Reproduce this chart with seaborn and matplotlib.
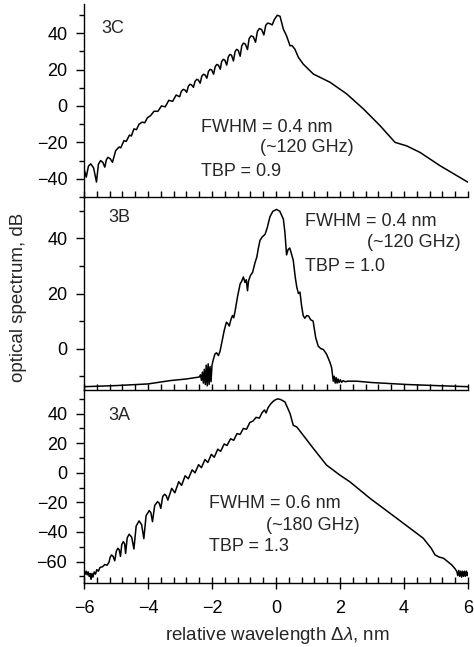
#!/usr/bin/env python3
"""Three stacked optical spectra (3C, 3B, 3A) vs relative wavelength."""

import numpy as np
import pandas as pd
import matplotlib
matplotlib.use("Agg")
import matplotlib.pyplot as plt
from matplotlib.ticker import MultipleLocator
import seaborn as sns

# ---- values (x in nm, y in dB) ----
x_3c = [-6.00, -5.93, -5.86, -5.79, -5.70, -5.61, -5.55, -5.48, -5.41, -5.35,
        -5.30, -5.25, -5.18, -5.11, -5.01, -4.90, -4.85, -4.75, -4.68, -4.58,
        -4.52, -4.44, -4.36, -4.28, -4.18, -4.10, -4.02, -3.92,
        -3.81, -3.69, -3.58, -3.46, -3.35, -3.23, -3.12,
        -3.01, -2.96, -2.90, -2.85, -2.79, -2.74, -2.69, -2.64,
        -2.58, -2.53, -2.48, -2.43, -2.37, -2.32, -2.27, -2.22,
        -2.16, -2.11, -2.06, -2.01, -1.95, -1.90, -1.85, -1.80,
        -1.74, -1.70, -1.65, -1.60, -1.54, -1.49, -1.44, -1.39,
        -1.33, -1.28, -1.23, -1.18, -1.12, -1.07, -1.02, -0.96,
        -0.89, -0.84, -0.78, -0.71, -0.64, -0.58, -0.52, -0.45,
        -0.38, -0.32, -0.26, -0.19, -0.12, -0.05, 0.04, 0.125,
        0.23, 0.33, 0.44, 0.50, 0.59, 0.70, 0.85, 1.17, 1.69, 2.21,
        2.73, 3.25, 3.72, 4.08, 4.50, 5.125, 6.00]
y_3c = [-34.5, -39.1, -33.0, -31.8, -34.0, -41.8, -32.0, -30.0, -31.0, -33.6,
        -29.5, -28.2, -29.0, -30.9, -24.5, -22.5, -23.0, -19.0, -19.5, -16.0,
        -16.5, -12.6, -13.0, -10.0, -8.9, -9.2, -6.5, -5.3,
        -2.9, -2.95, 0.0, -0.45, 3.1, 2.55, 6.0,
        5.05, 8.0, 9.1, 8.8, 7.5, 10.8, 11.9, 11.6,
        10.25, 13.5, 14.6, 14.3, 12.5, 16.3, 17.4, 17.1,
        15.25, 19.0, 20.1, 19.8, 17.45, 21.6, 22.8, 22.4,
        20.2, 24.3, 25.6, 25.2, 22.45, 27.0, 28.3, 27.9,
        24.7, 29.8, 31.1, 30.6, 27.3, 33.0, 34.5, 34.0,
        31.0, 37.0, 38.5, 38.0, 35.0, 41.0, 42.5, 42.0,
        39.0, 44.3, 45.5, 45.2, 44.5, 47.5, 49.8, 49.3,
        42.2, 38.5, 33.0, 33.2, 31.2, 26.7, 23.0, 17.5, 13.0, 6.6,
        -1.6, -10.8, -20.0, -21.9, -25.5, -32.8, -41.9]

x_3b = [-6.00, -5.00, -4.00, -3.31, -2.80, -2.40,
        -2.36, -2.33, -2.30, -2.27, -2.24, -2.21, -2.18, -2.15, -2.12, -2.09,
        -2.06, -2.03, -2.00,
        -1.96, -1.91, -1.86, -1.80, -1.75, -1.68, -1.62, -1.55, -1.50, -1.46,
        -1.41, -1.36, -1.32, -1.28, -1.20, -1.12, -1.07, -1.02, -0.97, -0.93,
        -0.89, -0.86, -0.80, -0.73, -0.66, -0.60, -0.55, -0.50, -0.43, -0.34,
        -0.27, -0.19, -0.10, 0.02, 0.12, 0.23, 0.28, 0.33, 0.38, 0.43,
        0.48, 0.54, 0.60, 0.65, 0.70, 0.75, 0.80, 0.85, 0.90, 0.96,
        1.02, 1.08, 1.16, 1.24, 1.32, 1.40, 1.48, 1.58, 1.69, 1.74, 1.79,
        1.82, 1.85, 1.88, 1.91, 1.94, 1.97, 2.01, 2.05, 2.10, 2.16, 2.25,
        2.52, 3.00, 4.08, 5.00, 6.00]
y_3b = [-13.8, -13.4, -12.8, -11.6, -11.0, -10.3,
        -9.5, -11.5, -8.5, -12.5, -7.5, -13.0, -6.0, -13.5, -5.5, -13.0,
        -6.5, -12.0, -6.0,
        -4.0, -2.0, -1.5, -2.5, -1.0, 3.0, 6.5, 9.6, 9.0, 8.2,
        10.5, 12.0, 11.2, 13.5, 19.0, 23.5, 24.5, 26.0, 24.0, 25.0,
        21.0, 24.5, 26.5, 27.7, 31.0, 33.2, 36.5, 39.3, 40.5, 41.5,
        44.0, 47.8, 49.8, 50.5, 49.8, 47.0, 42.0, 34.0, 36.0, 36.5,
        34.5, 32.0, 26.0, 22.3, 20.0, 20.5, 15.5, 12.0, 11.0, 12.0,
        11.8, 10.5, 10.0, 4.0, 0.9, 0.0, -0.3, -2.0, -5.1, -7.0, -11.8,
        -10.0, -12.5, -10.5, -12.5, -11.0, -12.3, -11.3, -12.2, -11.6, -12.0, -11.8,
        -11.8, -12.3, -13.0, -13.4, -13.8]

x_3a = [-6.00, -5.96, -5.93, -5.90, -5.87, -5.84, -5.81, -5.78, -5.75, -5.72,
        -5.68, -5.64, -5.60, -5.55, -5.50, -5.42, -5.35, -5.28,
        -5.22, -5.18, -5.14, -5.09, -5.04, -4.99, -4.94, -4.90,
        -4.86, -4.82, -4.77, -4.73, -4.70, -4.65, -4.59, -4.51,
        -4.44, -4.37, -4.28, -4.20, -4.13, -4.06, -3.96, -3.91,
        -3.86, -3.79, -3.70, -3.65, -3.60, -3.54, -3.48, -3.43,
        -3.38, -3.26, -3.16, -3.04, -2.95,
        -2.84, -2.74, -2.62, -2.53, -2.42, -2.33, -2.22, -2.13, -2.02, -1.93,
        -1.82, -1.73, -1.62, -1.53, -1.42, -1.32, -1.22, -1.12, -1.02, -0.92,
        -0.82, -0.72, -0.62, -0.52, -0.44, -0.36, -0.31, -0.25, -0.17, -0.08,
        0.00, 0.07, 0.15, 0.28, 0.36, 0.44, 0.54, 0.65, 0.85, 1.17,
        1.58, 2.00, 2.31, 2.94, 3.77, 4.60, 4.85, 4.97, 5.10, 5.23,
        5.49, 5.60, 5.65, 5.68, 5.71, 5.74, 5.77, 5.80, 5.83, 5.86,
        5.89, 5.92, 5.95, 5.98, 6.00]
y_3a = [-66.0, -68.5, -66.5, -69.0, -67.0, -70.0, -68.0, -72.0, -68.0, -70.5,
        -67.0, -68.5, -65.5, -66.5, -64.0, -63.5, -62.0, -62.5,
        -60.5, -57.0, -55.5, -56.5, -59.5, -53.0, -51.0, -52.0,
        -56.5, -48.5, -46.5, -48.0, -54.5, -44.0, -41.5, -43.5,
        -51.5, -36.0, -32.5, -35.0, -44.5, -29.0, -25.5, -27.0,
        -33.0, -22.0, -19.5, -20.5, -24.0, -16.0, -14.5, -15.5,
        -18.5, -10.5, -13.5, -6.0, -8.5,
        -2.0, -4.0, 2.0, 0.0, 5.5, 3.5, 9.0, 7.0, 12.5, 10.5,
        16.0, 14.5, 19.5, 18.5, 23.0, 22.0, 26.5, 26.0, 30.0, 29.5,
        34.0, 35.0, 37.5, 37.0, 40.5, 42.5, 40.5, 44.0, 46.5, 48.5,
        49.6, 50.0, 49.5, 47.9, 44.0, 40.0, 32.1, 31.0, 25.4, 16.4,
        5.2, -1.6, -6.1, -17.3, -30.7, -44.2, -51.0, -55.5, -57.0, -57.7,
        -62.2, -65.0, -66.7, -69.5, -66.0, -70.0, -66.5, -70.5, -66.5, -70.0,
        -66.5, -70.0, -66.5, -69.5, -67.5]

panel_tags = ["3C", "3B", "3A"]
ylims = [(-50, 56), (-15, 55), (-74.5, 56)]
fwhm_text = ["FWHM = 0.4 nm", "FWHM = 0.4 nm", "FWHM = 0.6 nm"]
ghz_text = ["(~120 GHz)", "(~120 GHz)", "(~180 GHz)"]
tbp_text = ["TBP = 0.9", "TBP = 1.0", "TBP = 1.3"]

sns.set_theme(style="ticks")
plt.rcParams['font.family'] = ['Liberation Sans', 'DejaVu Sans']
plt.rcParams['mathtext.fontset'] = 'custom'
plt.rcParams['mathtext.rm'] = 'Liberation Sans'
plt.rcParams['mathtext.it'] = 'Liberation Sans:italic'
plt.rcParams['axes.edgecolor'] = 'black'
plt.rcParams['xtick.color'] = 'black'
plt.rcParams['ytick.color'] = 'black'
FS_TICK = 13
FS_TEXT = 13
FS_LABEL = 13.5

fig = plt.figure(figsize=(4.74, 6.47), dpi=100)
left, width = 84 / 474, 384 / 474
h = 193 / 647
bottom = 64 / 647
axes = [fig.add_axes([left, bottom + 2 * h, width, h]),
        fig.add_axes([left, bottom + h, width, h]),
        fig.add_axes([left, bottom, width, h])]

data = [(x_3c, y_3c), (x_3b, y_3b), (x_3a, y_3a)]

# text anchor positions in data coords (x_left, y_baseline)
tag_pos = [(-5.45, 40.0), (-5.24, 45.8), (-5.24, 35.5)]
fwhm_pos = [(-2.35, -14.1), (0.91, 44.6), (-2.09, -24.0)]
ghz_pos = [(-0.50, -25.5), (2.83, 37.0), (-0.30, -38.6)]
tbp_pos = [(-2.35, -38.2), (0.91, 28.2), (-2.09, -53.2)]

for i, ax in enumerate(axes):
    x, y = data[i]
    df = pd.DataFrame({'x': x, 'y': y})
    sns.lineplot(data=df, x='x', y='y', ax=ax, color='black', linewidth=1.1,
                 estimator=None, sort=False)
    ax.set_xlim(-6, 6)
    ax.set_ylim(*ylims[i])
    ax.set_xlabel('')
    ax.set_ylabel('')
    ax.patch.set_alpha(0)
    for s in ['top', 'right']:
        ax.spines[s].set_visible(False)
    for s in ['left', 'bottom']:
        ax.spines[s].set_linewidth(1.0)
    ax.xaxis.set_major_locator(MultipleLocator(2))
    ax.xaxis.set_minor_locator(MultipleLocator(0.4))
    ax.yaxis.set_major_locator(MultipleLocator(20))
    ax.yaxis.set_minor_locator(MultipleLocator(10))
    ax.tick_params(axis='y', which='major', direction='out', length=6, width=1.0,
                   labelsize=FS_TICK, pad=6)
    ax.tick_params(axis='y', which='minor', direction='out', length=3.5, width=1.0)
    ax.tick_params(axis='x', which='minor', direction='in', length=4, width=1.0)
    if i < 2:
        ax.tick_params(axis='x', which='major', direction='in', length=4, width=1.0,
                       labelbottom=False)
    else:
        ax.tick_params(axis='x', which='major', direction='inout', length=8, width=1.0,
                       labelsize=FS_TICK, pad=8)

    ax.text(*tag_pos[i], panel_tags[i], fontsize=FS_TEXT, va='baseline')
    ax.text(*fwhm_pos[i], fwhm_text[i], fontsize=FS_TEXT, va='baseline')
    ax.text(*ghz_pos[i], ghz_text[i], fontsize=FS_TEXT, va='baseline')
    ax.text(*tbp_pos[i], tbp_text[i], fontsize=FS_TEXT, va='baseline')

fig.text(19 / 474, 1 - 297 / 647, 'optical spectrum, dB', rotation=90,
         ha='center', va='center', fontsize=FS_LABEL)
fig.text(277 / 474, 1 - 640 / 647, r'relative wavelength $\Delta\lambda$, nm',
         ha='center', va='baseline', fontsize=FS_LABEL)

plt.savefig('out.png', dpi=100)
plt.close()
